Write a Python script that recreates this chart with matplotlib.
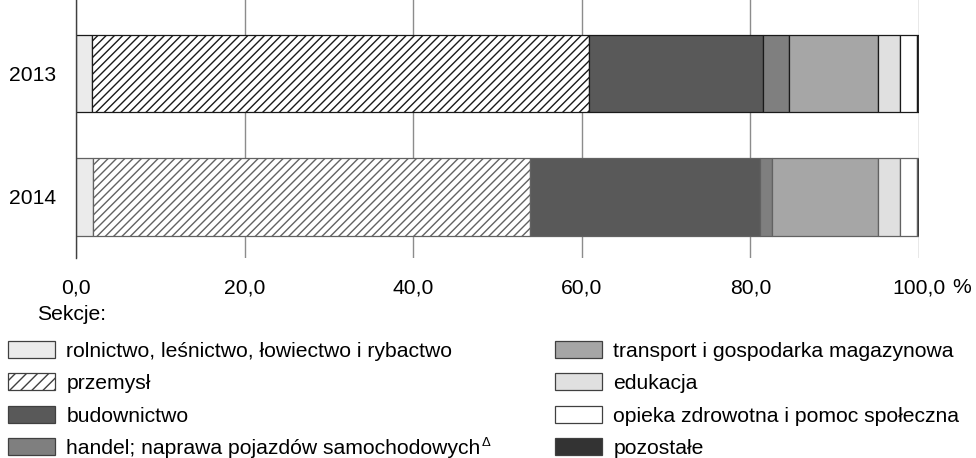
import numpy as np
import matplotlib.pyplot as plt
from matplotlib.patches import Patch
from matplotlib.transforms import IdentityTransform

plt.rcParams['font.family'] = ['Liberation Sans', 'DejaVu Sans']
plt.rcParams['font.size'] = 15.2
plt.rcParams['hatch.linewidth'] = 1.0

# struktura wg sekcji (%)
years = ['2013', '2014']
rolnictwo = [1.9, 2.0]
przemysl = [59.0, 51.9]
budownictwo = [20.6, 27.2]
handel = [3.1, 1.5]
transport = [10.5, 12.5]
edukacja = [2.6, 2.7]
opieka = [2.1, 2.0]
pozostale = [0.2, 0.2]

labels = [
    'rolnictwo, leśnictwo, łowiectwo i rybactwo',
    'przemysł',
    'budownictwo',
    'handel; naprawa pojazdów samochodowych',
    'transport i gospodarka magazynowa',
    'edukacja',
    'opieka zdrowotna i pomoc społeczna',
    'pozostałe',
]
series = [rolnictwo, przemysl, budownictwo, handel, transport, edukacja, opieka, pozostale]
colors = ['#ebebeb', 'white', '#595959', '#7f7f7f', '#a6a6a6', '#e0e0e0', 'white', '#333333']
hatches = [None, '////', None, None, None, None, None, None]
bar_edges = ['#1a1a1a', '#626262']

fig = plt.figure(figsize=(9.76, 4.58), dpi=100)
ax = fig.add_axes([76 / 976, 1 - 258 / 458, (919 - 76) / 976, 258 / 458])

ypos = np.arange(len(years))
left = np.zeros(len(years))
for vals, col, h in zip(series, colors, hatches):
    vals = np.array(vals)
    for i in range(len(years)):
        ax.barh(ypos[i], vals[i], left=left[i], height=0.625, color=col,
                edgecolor=bar_edges[i], linewidth=0.9, hatch=h, zorder=3)
    left += vals

ax.set_xlim(0, 100)
ax.set_ylim(1.494, -0.595)
ax.set_xticks(np.arange(0, 101, 20))
ax.set_xticklabels([f'{v:.1f}'.replace('.', ',') for v in np.arange(0, 101, 20)])
ax.set_yticks(ypos)
ax.set_yticklabels(years)
ax.tick_params(axis='x', length=0, pad=14.5)
ax.tick_params(axis='y', length=0, pad=14)
ax.grid(axis='x', color='#8c8c8c', linewidth=1.0, zorder=0)
for s in ['top', 'right', 'bottom']:
    ax.spines[s].set_visible(False)
ax.spines['left'].set_color('#404040')
ax.spines['left'].set_linewidth(1.0)
ax.spines['left'].set_zorder(4)

fig.text(962 / 976, 1 - 293 / 458, '%', ha='center', va='baseline')
fig.text(37 / 976, 1 - 320 / 458, 'Sekcje:', ha='left', va='baseline')

# w legendzie kreskowanie rzadsze niż na słupkach
legend_hatches = [None, '///', None, None, None, None, None, None]
handles = [Patch(facecolor=c, edgecolor='#404040', linewidth=0.9, hatch=h)
           for c, h in zip(colors, legend_hatches)]
kw = dict(loc='upper left', frameon=False, borderpad=0, borderaxespad=0,
          handlelength=2.22, handleheight=0.85, handletextpad=0.55, labelspacing=0.6)
leg1 = fig.legend(handles[:4], labels[:4], bbox_to_anchor=(8 / 976, 1 - 341 / 458), **kw)
fig.legend(handles[4:], labels[4:], bbox_to_anchor=(555 / 976, 1 - 341 / 458), **kw)

# znak Δ w indeksie górnym za etykietą "handel"
fig.canvas.draw()
bb = leg1.get_texts()[3].get_window_extent()
fig.text(bb.x1 + 1, bb.y1 + 2, 'Δ', fontsize=9.5, ha='left', va='top',
         transform=IdentityTransform())

fig.savefig('out.png', dpi=100)
